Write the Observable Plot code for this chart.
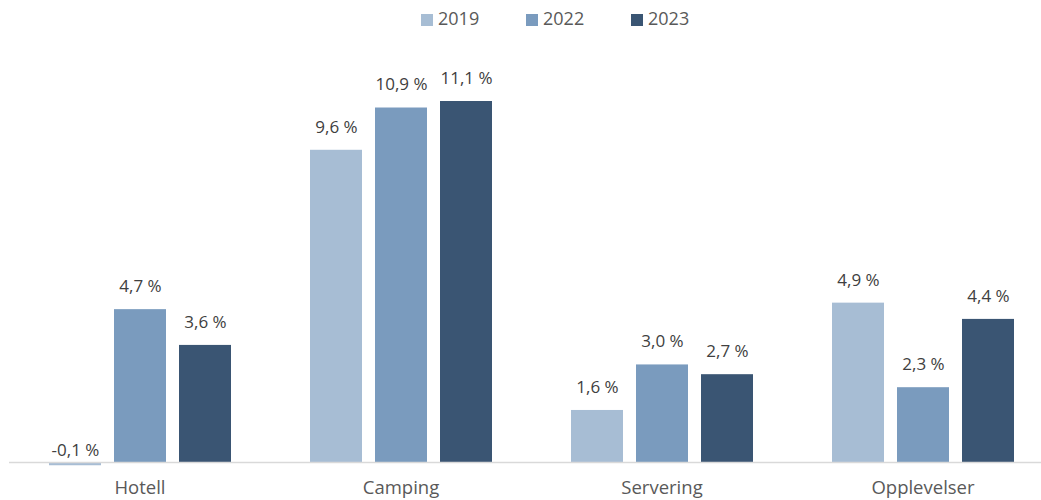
<!DOCTYPE html>
<html><head><meta charset="utf-8">
<script src="https://cdn.jsdelivr.net/npm/d3@7"></script>
<script src="https://cdn.jsdelivr.net/npm/@observablehq/plot@0.6"></script>
<style>
body{margin:0;background:#fff;font-family:"Open Sans",sans-serif;}
#legend{position:relative;height:36px;width:1041px;}
.sw{position:absolute;top:14px;width:12px;height:12px;}
.lt{position:absolute;top:5px;font-size:18px;color:#595959;line-height:26px;}
</style></head>
<body>
<div id="legend"></div>
<div id="chart"></div>
<script>
const categories = ["Hotell", "Camping", "Servering", "Opplevelser"];
const years = ["2019", "2022", "2023"];
const v2019 = [-0.1, 9.6, 1.6, 4.9];
const v2022 = [4.7, 10.9, 3.0, 2.3];
const v2023 = [3.6, 11.1, 2.7, 4.4];
const colors = ["#a7bdd4", "#7a9bbe", "#3a5573"];

const series = [v2019, v2022, v2023];
const data = [];
categories.forEach((c, i) => years.forEach((y, j) => data.push({category: c, year: y, value: series[j][i]})));
const fmt = v => v.toFixed(1).replace(".", ",") + " %";

// legend
const lg = document.getElementById("legend");
const legX = [421, 526, 631];
years.forEach((y, j) => {
  const s = document.createElement("div"); s.className = "sw";
  s.style.left = legX[j] + "px"; s.style.background = colors[j]; lg.appendChild(s);
  const t = document.createElement("div"); t.className = "lt";
  t.style.left = (legX[j] + 17) + "px"; t.textContent = y; lg.appendChild(t);
});

const chart = Plot.plot({
  width: 1041,
  height: 464,
  marginLeft: 0, marginRight: 0, marginTop: 0, marginBottom: 38,
  style: {fontFamily: "Open Sans, sans-serif", fontSize: "18.5px", color: "#595959", background: "#fff", overflow: "visible"},
  fx: {domain: categories, range: [8.5, 1052.5], paddingInner: 0.2529, paddingOuter: 0.1264, label: null, tickSize: 0, tickPadding: 18},
  x: {domain: years, paddingInner: 0.2, paddingOuter: 0.1, axis: null},
  y: {domain: [0, 11.1], range: [426, 65], axis: null},
  color: {domain: years, range: colors},
  marks: [
    Plot.barY(data, {fx: "category", x: "year", y: "value", fill: "year"}),
    Plot.ruleY([0], {stroke: "#d9d9d9", strokeWidth: 1.5, insetLeft: -33, insetRight: -33}),
    Plot.text(data.filter(d => d.value >= 0), {fx: "category", x: "year", y: "value", text: d => fmt(d.value), dy: -23, fill: "#404040", fontSize: 17}),
    Plot.text(data.filter(d => d.value < 0), {fx: "category", x: "year", y: () => 0, text: d => fmt(d.value), dy: -12, fill: "#404040", fontSize: 17})
  ]
});
document.getElementById("chart").appendChild(chart);
</script>
</body></html>
